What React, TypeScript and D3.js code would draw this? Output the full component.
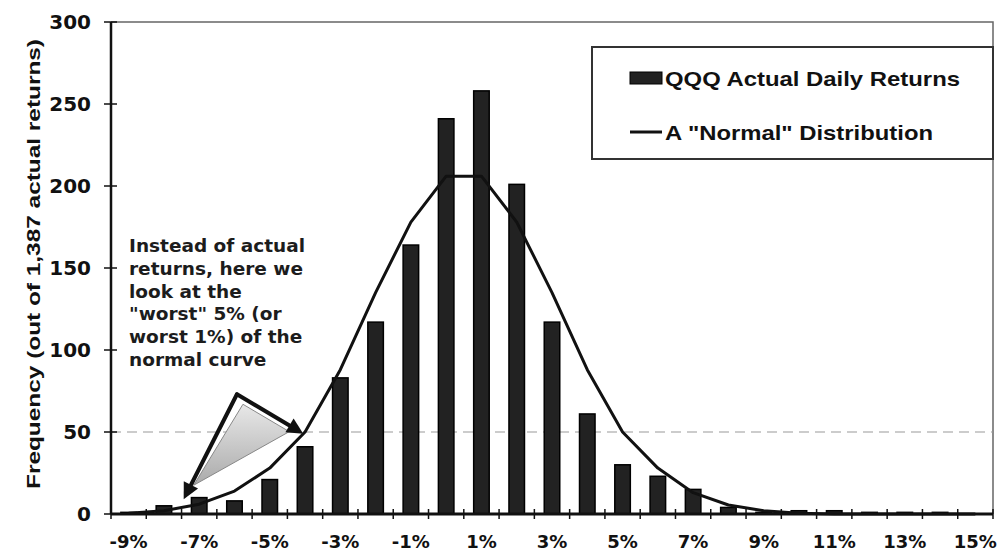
import React, { useEffect, useRef } from 'react'
import * as d3 from 'd3'

const categories = [
  '-9%', '-8%', '-7%', '-6%', '-5%', '-4%', '-3%', '-2%', '-1%', '0%', '1%', '2%', '3%',
  '4%', '5%', '6%', '7%', '8%', '9%', '10%', '11%', '12%', '13%', '14%', '15%',
]
const actualReturns = [1, 5, 10, 8, 21, 41, 83, 117, 164, 241, 258, 201, 117, 61, 30, 23, 15, 4, 1, 2, 2, 1, 1, 1, 0]
const normalCurve = [0.5, 2, 6, 14, 28, 50, 88, 135, 178, 206, 206, 178, 135, 88, 50, 28, 13, 5.5, 2, 0.5, 0, 0, 0, 0, 0]
const xTickLabels = ['-9%', '-7%', '-5%', '-3%', '-1%', '1%', '3%', '5%', '7%', '9%', '11%', '13%', '15%']
const yTicks = [0, 50, 100, 150, 200, 250, 300]
const noteLines = [
  'Instead of actual',
  'returns, here we',
  'look at the',
  '"worst" 5% (or',
  'worst 1%) of the',
  'normal curve',
]

const FONT = '"DejaVu Sans", Verdana, sans-serif'
const ARIAL = '"Liberation Sans", Arial, sans-serif'
const INK = '#111'

export default function App() {
  const svgRef = useRef<SVGSVGElement>(null)

  useEffect(() => {
    if (!svgRef.current) return
    const svg = d3.select(svgRef.current)
    svg.selectAll('*').remove()

    const width = 1008
    const height = 551
    const left = 111
    const right = 993
    const top = 22
    const bottom = 514

    const x = d3.scaleBand<string>()
      .domain(categories)
      .range([left, right])
      .paddingInner(0.56)
      .paddingOuter(0.28)
    // continuous index scale for tick marks and the annotation arrows
    const xi = d3.scaleLinear().domain([0, categories.length]).range([left, right])
    const y = d3.scaleLinear().domain([0, 300]).range([bottom, top])
    const center = (c: string) => (x(c) || 0) + x.bandwidth() / 2

    svg.append('rect').attr('width', width).attr('height', height).attr('fill', '#fff')

    // plot border (top + right), faint
    svg.append('path')
      .attr('d', `M${left},${top}H${right}V${bottom}`)
      .attr('fill', 'none')
      .attr('stroke', '#666')
      .attr('stroke-width', 1.5)

    // faint gridline at 50
    svg.append('line')
      .attr('x1', left).attr('x2', right)
      .attr('y1', y(50)).attr('y2', y(50))
      .attr('stroke', '#999')
      .attr('stroke-width', 1)
      .attr('stroke-dasharray', '10 6')

    // bars
    svg.append('g')
      .selectAll('rect')
      .data(actualReturns)
      .join('rect')
      .attr('x', (d, i) => x(categories[i]) || 0)
      .attr('y', (d) => y(d))
      .attr('width', x.bandwidth())
      .attr('height', (d) => bottom - y(d))
      .attr('fill', '#222')
      .attr('stroke', '#000')
      .attr('stroke-width', 1.5)

    // normal curve
    const line = d3.line<number>()
      .x((d, i) => center(categories[i]))
      .y((d) => y(d))
    svg.append('path')
      .datum(normalCurve)
      .attr('d', line)
      .attr('fill', 'none')
      .attr('stroke', INK)
      .attr('stroke-width', 3)
      .attr('stroke-linejoin', 'round')

    // x axis
    const xAxis = svg.append('g')
    xAxis.append('line')
      .attr('x1', left).attr('x2', right)
      .attr('y1', bottom).attr('y2', bottom)
      .attr('stroke', INK).attr('stroke-width', 3)
    xAxis.selectAll('line.tick')
      .data(d3.range(categories.length + 1))
      .join('line')
      .attr('class', 'tick')
      .attr('x1', (d) => xi(d)).attr('x2', (d) => xi(d))
      .attr('y1', bottom - 5).attr('y2', bottom + 5)
      .attr('stroke', INK).attr('stroke-width', 1.5)
    xAxis.selectAll('text')
      .data(xTickLabels)
      .join('text')
      .attr('x', (d) => center(d))
      .attr('y', 548)
      .attr('text-anchor', 'middle')
      .attr('font-family', FONT)
      .attr('font-weight', 'bold')
      .attr('font-size', 18)
      .attr('fill', INK)
      .text((d) => d)

    // y axis
    const yAxis = svg.append('g')
    yAxis.append('line')
      .attr('x1', left).attr('x2', left)
      .attr('y1', top).attr('y2', bottom)
      .attr('stroke', INK).attr('stroke-width', 2.5)
    yAxis.selectAll('line.tick')
      .data(yTicks)
      .join('line')
      .attr('class', 'tick')
      .attr('x1', left - 7).attr('x2', left + 6)
      .attr('y1', (d) => y(d)).attr('y2', (d) => y(d))
      .attr('stroke', INK).attr('stroke-width', 1.5)
    yAxis.selectAll('text')
      .data(yTicks)
      .join('text')
      .attr('x', 91)
      .attr('y', (d) => y(d))
      .attr('dy', '0.36em')
      .attr('text-anchor', 'end')
      .attr('font-family', FONT)
      .attr('font-weight', 'bold')
      .attr('font-size', 20)
      .attr('fill', INK)
      .text((d) => d)

    svg.append('text')
      .attr('transform', `translate(40,264) rotate(-90)`)
      .attr('text-anchor', 'middle')
      .attr('font-family', ARIAL)
      .attr('font-weight', 'bold')
      .attr('font-size', 19)
      .attr('textLength', 450)
      .attr('lengthAdjust', 'spacingAndGlyphs')
      .attr('fill', INK)
      .text('Frequency (out of 1,387 actual returns)')

    // legend
    const lg = svg.append('g')
    lg.append('rect')
      .attr('x', 592).attr('y', 47)
      .attr('width', right - 592).attr('height', 112)
      .attr('fill', '#fff')
      .attr('stroke', '#333')
      .attr('stroke-width', 2)
    lg.append('rect')
      .attr('x', 630).attr('y', 72)
      .attr('width', 32).attr('height', 12)
      .attr('fill', '#222').attr('stroke', '#000')
    lg.append('line')
      .attr('x1', 630).attr('x2', 662)
      .attr('y1', 132).attr('y2', 132)
      .attr('stroke', INK).attr('stroke-width', 3)
    const legendText = [
      { label: 'QQQ Actual Daily Returns', y: 78, len: 295 },
      { label: 'A "Normal" Distribution', y: 132, len: 268 },
    ]
    lg.selectAll('text')
      .data(legendText)
      .join('text')
      .attr('x', 665)
      .attr('y', (d) => d.y)
      .attr('dy', '0.36em')
      .attr('font-family', ARIAL)
      .attr('font-weight', 'bold')
      .attr('font-size', 21)
      .attr('textLength', (d) => d.len)
      .attr('lengthAdjust', 'spacingAndGlyphs')
      .attr('fill', INK)
      .text((d) => d.label)

    // annotation text
    svg.append('g')
      .selectAll('text')
      .data(noteLines)
      .join('text')
      .attr('x', 129)
      .attr('y', (d, i) => 252 + i * 22.8)
      .attr('font-family', FONT)
      .attr('font-weight', 'bold')
      .attr('font-size', 18.5)
      .attr('fill', '#1c1c1c')
      .text((d) => d)

    // annotation arrows
    const defs = svg.append('defs')
    const grad = defs.append('linearGradient')
      .attr('id', 'wedge')
      .attr('x1', '0').attr('y1', '0').attr('x2', '0').attr('y2', '1')
    grad.append('stop').attr('offset', '0%').attr('stop-color', '#e8e8e8')
    grad.append('stop').attr('offset', '100%').attr('stop-color', '#aaaaaa')

    const apex: [number, number] = [xi(3.57), y(73)]
    const tipA: [number, number] = [xi(2.06), y(9)]
    const tipB: [number, number] = [xi(5.45), y(49)]

    svg.append('path')
      .attr('d', `M${apex[0] + 6},${apex[1] + 10}L${tipA[0] + 10},${tipA[1] - 14}L${tipB[0] - 14},${tipB[1] - 2}Z`)
      .attr('fill', 'url(#wedge)')
      .attr('stroke', '#888')
      .attr('stroke-width', 1)

    const arrow = (from: [number, number], to: [number, number]) => {
      const ang = Math.atan2(to[1] - from[1], to[0] - from[0])
      const headLen = 16
      const headW = 8
      const bx = to[0] - headLen * Math.cos(ang)
      const by = to[1] - headLen * Math.sin(ang)
      svg.append('line')
        .attr('x1', from[0]).attr('y1', from[1])
        .attr('x2', bx).attr('y2', by)
        .attr('stroke', INK).attr('stroke-width', 4)
        .attr('stroke-linecap', 'round')
      const px = -Math.sin(ang) * headW
      const py = Math.cos(ang) * headW
      svg.append('path')
        .attr('d', `M${to[0]},${to[1]}L${bx + px},${by + py}L${bx - px},${by - py}Z`)
        .attr('fill', INK)
    }
    arrow(apex, tipA)
    arrow(apex, tipB)
  }, [])

  return (
    <svg
      ref={svgRef}
      width={1008}
      height={551}
      style={{ position: 'absolute', left: 0, top: 0 }}
    />
  )
}
